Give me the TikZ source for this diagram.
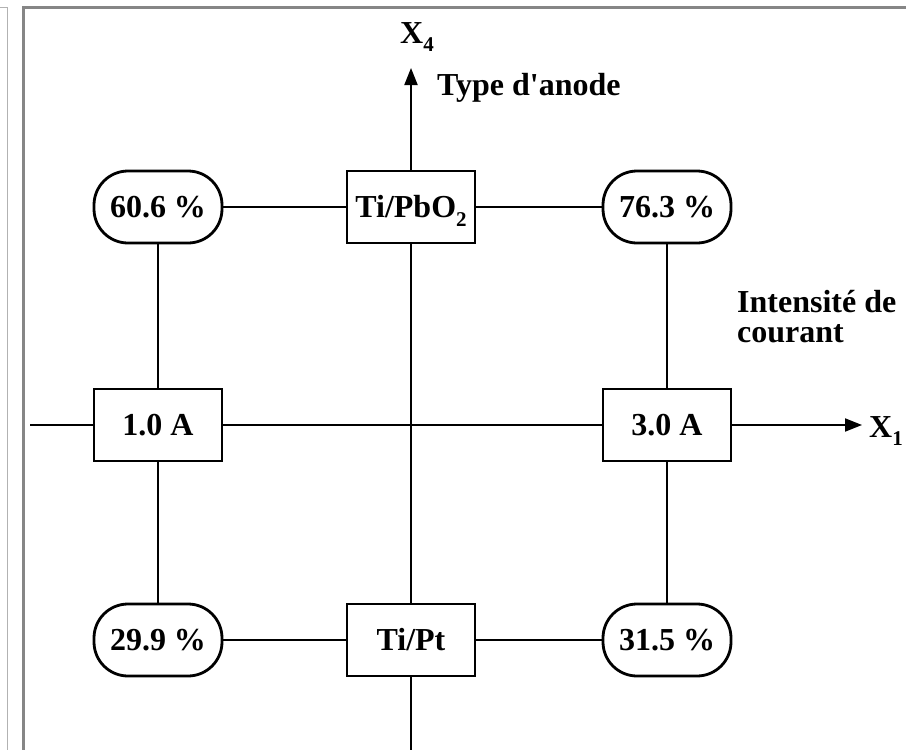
\documentclass[tikz,border=0pt]{standalone}
\usepackage{fontspec}
\setmainfont{Liberation Serif}
\usetikzlibrary{arrows.meta}
\newcommand{\mysub}[1]{\raisebox{-0.28em}[0pt][0pt]{\fontsize{21}{21}\selectfont #1}}
\begin{document}
\begin{tikzpicture}[x=1pt,y=-1pt,
  every node/.style={font=\fontsize{32}{30}\selectfont\bfseries},
  sqbox/.style={draw, line width=2.4pt, fill=white, minimum width=128pt, minimum height=72pt, inner sep=0pt},
  rdbox/.style={draw, line width=2.8pt, fill=white, rounded corners=34pt, minimum width=128pt, minimum height=72pt, inner sep=0pt},
  link/.style={line width=2pt},
  axarrow/.style={line width=2pt, -{Triangle[length=17pt,width=13pt]}},
  lbl/.style={inner sep=0pt, align=left}]
\useasboundingbox (0,0) rectangle (906,750);
% frame
\draw[gray!60, line width=1pt] (0,7) -- (7,7) -- (7,750);
\draw[gray!95, line width=3pt] (23,751) -- (23,7) -- (907,7);
% axis ends
\coordinate (hl) at (30,425);
\coordinate (hr) at (862,425);
\coordinate (vb) at (411,751);
\coordinate (vt) at (411,68);
% nodes
\node[rdbox] (p606) at (158,207) {60.6 \%};
\node[sqbox] (tipb) at (411,207) {Ti/PbO\mysub{2}};
\node[rdbox] (p763) at (667,207) {76.3 \%};
\node[sqbox] (a1) at (158,425) {1.0 A};
\node[sqbox] (a3) at (667,425) {3.0 A};
\node[rdbox] (p299) at (158,640) {29.9 \%};
\node[sqbox] (tipt) at (411,640) {Ti/Pt};
\node[rdbox] (p315) at (667,640) {31.5 \%};
% connectors
\draw[link] (p606) -- (tipb);
\draw[link] (tipb) -- (p763);
\draw[link] (p299) -- (tipt);
\draw[link] (tipt) -- (p315);
\draw[link] (p606) -- (a1);
\draw[link] (a1) -- (p299);
\draw[link] (p763) -- (a3);
\draw[link] (a3) -- (p315);
\draw[link] (hl) -- (a1);
\draw[link] (a1) -- (a3);
\draw[axarrow] (a3) -- (hr);
\draw[link] (vb) -- (tipt);
\draw[link] (tipt) -- (tipb);
\draw[axarrow] (tipb) -- (vt);
% labels
\node[lbl, anchor=base west] (x4) at (400,43) {X\mysub{4}};
\node[lbl, anchor=base west] (typ) at (437,95) {Type d\textquotesingle anode};
\node[lbl, anchor=base west] (x1) at (869,437) {X\mysub{1}};
\node[lbl, anchor=base west] (ints) at (737,342) {Intensité de\\courant};
\end{tikzpicture}
\end{document}
